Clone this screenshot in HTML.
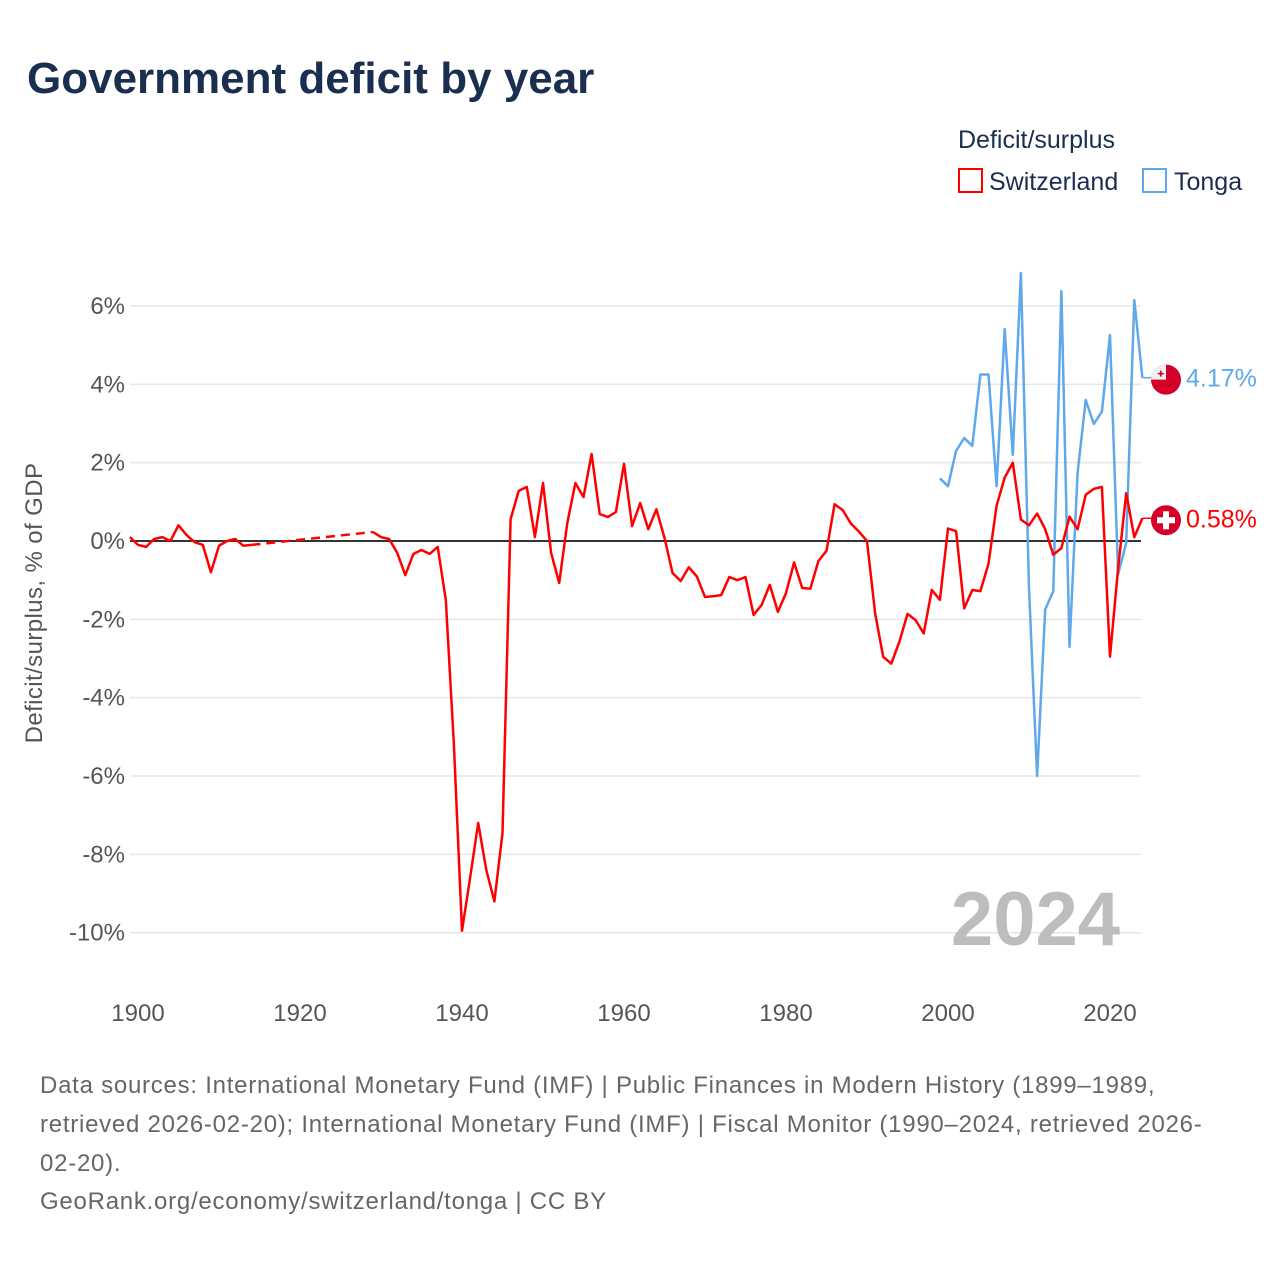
<!DOCTYPE html>
<html><head><meta charset="utf-8">
<style>
body{margin:0;background:#fff;font-family:"Liberation Sans","DejaVu Sans",sans-serif;}
#wrap{position:relative;width:1280px;height:1280px;overflow:hidden;}
</style></head>
<body><div id="wrap">
<svg id="chart" width="1280" height="1280" viewBox="0 0 1280 1280" xmlns="http://www.w3.org/2000/svg">
<text x="27" y="93" font-size="44" font-weight="bold" fill="#1a2e4f">Government deficit by year</text>
<text x="958" y="148" font-size="25" fill="#1a2e4f">Deficit/surplus</text>
<g><rect x="959" y="169" width="23" height="23" fill="none" stroke="#ff0000" stroke-width="2"/><text x="989" y="190" font-size="25" fill="#1a2e4f">Switzerland</text></g>
<g><rect x="1143" y="169" width="23" height="23" fill="none" stroke="#5fa8ea" stroke-width="2"/><text x="1174" y="190" font-size="25" fill="#1a2e4f">Tonga</text></g>
<g id="grid"></g><g id="yticks"></g><g id="xticks"></g><g id="series"></g>
<text x="42" y="603" font-size="24" fill="#555" text-anchor="middle" letter-spacing="0.4" transform="rotate(-90 42 603)">Deficit/surplus, % of GDP</text>
<text x="1120" y="945" font-size="76" font-weight="bold" fill="#bdbdbd" text-anchor="end">2024</text>
<g font-size="24" fill="#666" letter-spacing="0.75">
<text x="40" y="1093">Data sources: International Monetary Fund (IMF) | Public Finances in Modern History (1899–1989,</text>
<text x="40" y="1132">retrieved 2026-02-20); International Monetary Fund (IMF) | Fiscal Monitor (1990–2024, retrieved 2026-</text>
<text x="40" y="1171">02-20).</text>
<text x="40" y="1209">GeoRank.org/economy/switzerland/tonga | CC BY</text>
</g>
</svg>
</div>
<script>
const yTicks=[6,4,2,0,-2,-4,-6,-8,-10];
const xTicks=[1900,1920,1940,1960,1980,2000,2020];
const chYears=[1899,1900,1901,1902,1903,1904,1905,1906,1907,1908,1909,1910,1911,1912,1913,1914,1929,1930,1931,1932,1933,1934,1935,1936,1937,1938,1939,1940,1941,1942,1943,1944,1945,1946,1947,1948,1949,1950,1951,1952,1953,1954,1955,1956,1957,1958,1959,1960,1961,1962,1963,1964,1965,1966,1967,1968,1969,1970,1971,1972,1973,1974,1975,1976,1977,1978,1979,1980,1981,1982,1983,1984,1985,1986,1987,1988,1989,1990,1991,1992,1993,1994,1995,1996,1997,1998,1999,2000,2001,2002,2003,2004,2005,2006,2007,2008,2009,2010,2011,2012,2013,2014,2015,2016,2017,2018,2019,2020,2021,2022,2023,2024];
const chValues=[0.1,-0.1,-0.15,0.05,0.1,0.0,0.4,0.15,-0.03,-0.1,-0.8,-0.12,0.0,0.05,-0.12,-0.1,0.23,0.1,0.05,-0.3,-0.87,-0.33,-0.23,-0.33,-0.15,-1.5,-5.2,-9.95,-8.6,-7.2,-8.4,-9.2,-7.45,0.56,1.28,1.38,0.1,1.48,-0.3,-1.07,0.46,1.48,1.12,2.22,0.69,0.61,0.74,1.97,0.38,0.97,0.3,0.81,0.08,-0.82,-1.02,-0.67,-0.91,-1.43,-1.41,-1.38,-0.92,-1.0,-0.92,-1.89,-1.63,-1.12,-1.81,-1.33,-0.55,-1.2,-1.22,-0.51,-0.25,0.94,0.79,0.45,0.24,0.0,-1.84,-2.96,-3.13,-2.57,-1.86,-2.02,-2.36,-1.25,-1.5,0.32,0.25,-1.72,-1.25,-1.28,-0.58,0.9,1.62,2.0,0.55,0.4,0.7,0.3,-0.35,-0.18,0.62,0.3,1.18,1.33,1.38,-2.95,-0.7,1.22,0.1,0.58];
const toYears=[1999,2000,2001,2002,2003,2004,2005,2006,2007,2008,2009,2010,2011,2012,2013,2014,2015,2016,2017,2018,2019,2020,2021,2022,2023,2024];
const toValues=[1.6,1.4,2.3,2.63,2.43,4.25,4.25,1.4,5.41,2.2,6.84,-1.2,-6.0,-1.75,-1.28,6.38,-2.7,1.74,3.6,2.99,3.3,5.26,-0.85,-0.05,6.15,4.17];
const NS="http://www.w3.org/2000/svg";
const X=y=>138+(y-1900)*8.1;
const Y=v=>541-v*39.17;
function mk(tag,attrs,parent){const e=document.createElementNS(NS,tag);for(const k in attrs)e.setAttribute(k,attrs[k]);parent.appendChild(e);return e;}
const grid=document.getElementById('grid'),yt=document.getElementById('yticks'),xt=document.getElementById('xticks'),ser=document.getElementById('series');
yTicks.forEach(t=>{
 if(t!==0){const g=mk('line',{x1:130,x2:1141,y1:Y(t),y2:Y(t),stroke:'#e6e6e6','stroke-width':1.5},grid);
 
 }
 const l=mk('text',{x:125,y:Y(t)+8,'font-size':24,fill:'#555','text-anchor':'end'},yt);l.textContent=t+'%';
 
 
});
xTicks.forEach(t=>{const l=mk('text',{x:X(t),y:1021,'font-size':24,fill:'#555','text-anchor':'middle'},xt);l.textContent=t;
 
 });
const z=mk('line',{x1:130,x2:1141,y1:Y(0),y2:Y(0),stroke:'#333','stroke-width':2},grid);


function draw(years,vals,color,name){
 let segs=[],cur=[];
 for(let i=0;i<years.length;i++){
  if(i>0&&years[i]-years[i-1]>1){segs.push(cur);
   const d=mk('line',{x1:X(years[i-1]),y1:Y(vals[i-1]),x2:X(years[i]),y2:Y(vals[i]),stroke:color,'stroke-width':2.5,'stroke-dasharray':'9,6'},ser);
   
   
   cur=[];}
  cur.push(X(years[i]).toFixed(1)+','+Y(vals[i]).toFixed(1));
 }
 segs.push(cur);
 segs.forEach(s=>{const p=mk('polyline',{points:s.join(' '),fill:'none',stroke:color,'stroke-width':2.5,'stroke-linejoin':'round'},ser);
  
  });
 const ly=Y(vals[vals.length-1]),lx=X(years[years.length-1]);
 mk('line',{x1:lx,x2:1152,y1:ly,y2:ly,stroke:color,'stroke-width':1.5},ser);
 return ly;
}
const ty=draw(toYears,toValues,'#5fa8ea','tonga');
const cy=draw(chYears,chValues,'#ff0000','switzerland');
const tb=mk('g',{},ser);


mk('circle',{cx:1166,cy:ty+2,r:15,fill:'#d4002a'},tb);
mk('path',{d:`M1151 ${ty+2} A15 15 0 0 1 1166 ${ty-13} L1166 ${ty+2} Z`,fill:'#f0f0f0'},tb);
mk('rect',{x:1160,y:ty-7,width:1.6,height:6,fill:'#d4002a'},tb);
mk('rect',{x:1157.8,y:ty-4.8,width:6,height:1.6,fill:'#d4002a'},tb);
const tl=mk('text',{x:1186,y:ty+9,'font-size':25,fill:'#5fa8ea'},ser);tl.textContent=toValues[toValues.length-1].toFixed(2)+'%';


const sb=mk('g',{},ser);


mk('circle',{cx:1166,cy:cy+2,r:15,fill:'#d4002a'},sb);
mk('rect',{x:1163,y:cy-7,width:6,height:18,fill:'#fff'},sb);
mk('rect',{x:1157,y:cy-1,width:18,height:6,fill:'#fff'},sb);
const sl=mk('text',{x:1186,y:cy+9,'font-size':25,fill:'#ff0000'},ser);sl.textContent=chValues[chValues.length-1].toFixed(2)+'%';


</script>
</body></html>
